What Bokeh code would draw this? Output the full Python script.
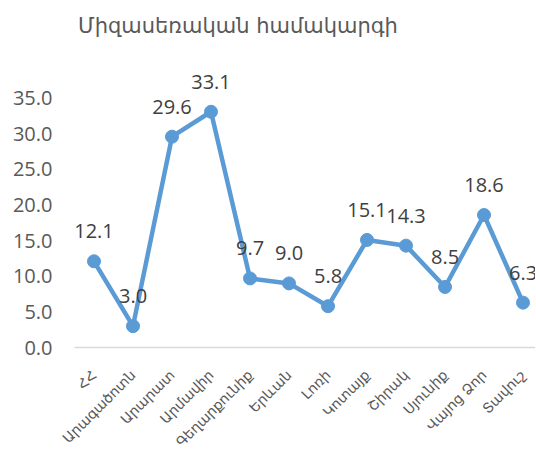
import math
from bokeh.plotting import figure
from bokeh.models import ColumnDataSource, FixedTicker, NumeralTickFormatter, Range1d, Label
from bokeh.core.properties import value
from bokeh.embed import file_html
from bokeh.resources import INLINE

title_text = "Միզասեռական համակարգի"
regions = ["ՀՀ", "Արագածոտն", "Արարատ", "Արմավիր", "Գեղարքունիք", "Երևան",
           "Լոռի", "Կոտայք", "Շիրակ", "Սյունիք", "Վայոց Ձոր", "Տավուշ"]
values = [12.1, 3.0, 29.6, 33.1, 9.7, 9.0, 5.8, 15.1, 14.3, 8.5, 18.6, 6.3]
y_ticks = [0, 5, 10, 15, 20, 25, 30, 35]

xs = list(range(len(regions)))
src = ColumnDataSource(dict(x=xs, y=values, lbl=[f"{v:.1f}" for v in values]))

p = figure(width=535, height=458, output_backend="svg", toolbar_location=None,
           x_range=Range1d(-0.5, 11.32), y_range=Range1d(0, 48.72),
           min_border_left=74, min_border_right=0, min_border_top=0, min_border_bottom=110)
p.outline_line_color = None
p.xgrid.visible = False
p.ygrid.visible = False

p.line("x", "y", source=src, line_color="#5B9BD5", line_width=4.5, line_join="round")
p.scatter("x", "y", source=src, size=13, fill_color="#5B9BD5", line_color="#5B9BD5")
p.text("x", "y", text="lbl", source=src, text_align="center", text_baseline="bottom",
       y_offset=-23, text_font=value("Open Sans"), text_font_size="20px", text_color="#404040")

p.xaxis.ticker = FixedTicker(ticks=xs)
p.xaxis.major_label_overrides = {i: r for i, r in enumerate(regions)}
p.xaxis.major_label_orientation = math.pi / 4
p.xaxis.major_tick_line_color = None
p.xaxis.minor_tick_line_color = None
p.xaxis.axis_line_color = "#D9D9D9"
p.xaxis.axis_line_width = 1.5
p.xaxis.major_label_text_font = "DejaVu Sans"
p.xaxis.major_label_text_font_size = "14px"
p.xaxis.major_label_text_color = "#595959"
p.xaxis.major_label_standoff = 19

p.yaxis.ticker = FixedTicker(ticks=y_ticks)
p.yaxis.formatter = NumeralTickFormatter(format="0.0")
p.yaxis.axis_line_color = None
p.yaxis.major_tick_line_color = None
p.yaxis.minor_tick_line_color = None
p.yaxis.major_label_text_font = "Open Sans"
p.yaxis.major_label_text_font_size = "20px"
p.yaxis.major_label_text_color = "#595959"
p.yaxis.major_label_standoff = 16

title = Label(x=-0.41, y=45.08, text=title_text,
              text_font="DejaVu Sans", text_font_size="21px", text_color="#595959",
              text_align="left", text_baseline="alphabetic")
p.add_layout(title)

open("out.html", "w").write(file_html(p, INLINE))
